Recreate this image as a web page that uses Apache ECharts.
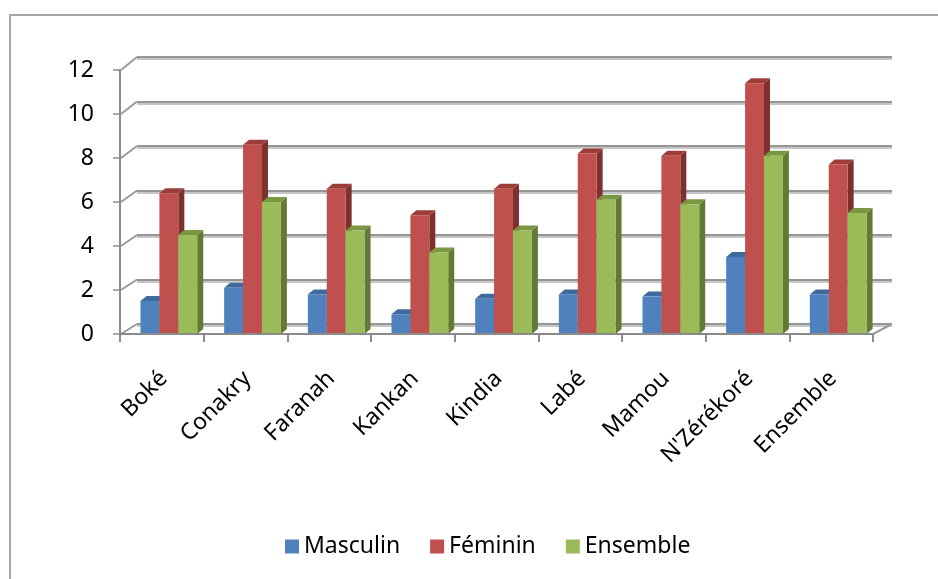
<!DOCTYPE html>
<html>
<head>
<meta charset="utf-8">
<script src="https://cdn.jsdelivr.net/npm/echarts@6/dist/echarts.min.js"></script>
<style>
html,body{margin:0;padding:0;background:#fff;}
#c{width:938px;height:579px;}
</style>
</head>
<body>
<div id="c"></div>
<script>
const categories = ["Boké","Conakry","Faranah","Kankan","Kindia","Labé","Mamou","N'Zérékoré","Ensemble"];
const seriesNames = ["Masculin","Féminin","Ensemble"];
const masculin = [1.5, 2.1, 1.8, 0.9, 1.6, 1.8, 1.7, 3.5, 1.8];
const feminin  = [6.4, 8.6, 6.6, 5.4, 6.6, 8.2, 8.1, 11.4, 7.7];
const ensemble = [4.5, 6.0, 4.7, 3.7, 4.7, 6.1, 5.9, 8.1, 5.5];
const yTicks = [0, 2, 4, 6, 8, 10, 12];

const palette = [
  {front:'#4F81BD', side:'#36598A', top:'#3F6A9E'},
  {front:'#C0504D', side:'#7E302E', top:'#9C3D3A'},
  {front:'#9BBB59', side:'#627A34', top:'#7A9744'}
];
const FONT = '"Noto Sans", "Open Sans", sans-serif';

function render3D(k){
  const c = palette[k];
  return function(params, api){
    const i = api.value(0), v = api.value(1);
    const band = api.size([1,0])[0];
    const base = api.coord([i, 0]);
    const top = api.coord([i, v]);
    const w = band*0.226;
    const x0 = base[0] - band/2 + band*0.245 + k*w;
    const x1 = x0 + w;
    const yb = base[1], yt = top[1];
    const dx = 6, dy = -5;
    return {
      type:'group',
      children:[
        {type:'polygon', shape:{points:[[x1,yt],[x1+dx,yt+dy],[x1+dx,yb+dy],[x1,yb]]}, style:{fill:c.side}},
        {type:'polygon', shape:{points:[[x0,yt],[x0+dx,yt+dy],[x1+dx,yt+dy],[x1,yt]]}, style:{fill:c.top}},
        {type:'rect', shape:{x:x0, y:yt, width:w, height:yb-yt}, style:{fill:c.front}}
      ]
    };
  };
}

const dataArrays = [masculin, feminin, ensemble];
const chart = echarts.init(document.getElementById('c'), null, {renderer:'canvas'});

const gridFront = {left:120, top:70, width:753, height:264};
const gridBack = {left:137, top:57, width:755, height:267};
const gridLabel = {left:122, top:70, width:753, height:264};

const option = {
  animation:false,
  backgroundColor:'#ffffff',
  grid:[gridFront, gridBack, gridLabel],
  legend:{
    data:seriesNames,
    left:280, top:530,
    icon:'rect', itemWidth:14, itemHeight:14, itemGap:30,
    textStyle:{fontFamily:FONT, fontSize:23, color:'#000'}
  },
  xAxis:[
    {gridIndex:0, type:'category', data:categories, z:5,
     axisLine:{lineStyle:{color:'#8a8a8a', width:2}},
     axisTick:{show:true, length:8, lineStyle:{color:'#8a8a8a', width:2}},
     axisLabel:{show:false}, splitLine:{show:false}},
    {gridIndex:1, type:'value', min:0, max:1, show:false},
    {gridIndex:2, type:'category', data:categories,
     axisLine:{show:false}, axisTick:{show:false},
     axisLabel:{show:true, interval:0, rotate:45, margin:41,
       fontFamily:FONT, fontSize:23, color:'#000'}}
  ],
  yAxis:[
    {gridIndex:0, type:'value', min:0, max:12, interval:2, z:5,
     axisLine:{show:true, lineStyle:{color:'#8a8a8a', width:2}},
     axisTick:{show:true, length:7, lineStyle:{color:'#8a8a8a', width:1.5}},
     axisLabel:{margin:26, fontFamily:FONT, fontSize:23, color:'#000'},
     splitLine:{show:false}},
    {gridIndex:1, type:'value', min:0, max:12, interval:2,
     axisLine:{show:false}, axisTick:{show:false}, axisLabel:{show:false},
     splitLine:{show:true, lineStyle:{color:'#959595', width:2, shadowColor:'#c6c6c6', shadowOffsetY:2, shadowBlur:0}}},
    {gridIndex:2, type:'value', min:0, max:12, show:false}
  ],
  series: seriesNames.map((name, k) => ({
    name:name,
    type:'custom',
    xAxisIndex:0, yAxisIndex:0,
    itemStyle:{color:palette[k].front},
    renderItem: render3D(k),
    encode:{x:0, y:1},
    data: dataArrays[k].map((v, i) => [i, v])
  }))
};
chart.setOption(option);

// wall/floor connectors computed from the axes
const g = [{type:'rect', shape:{x:10, y:15, width:1000, height:1000},
            style:{fill:'none', stroke:'#a6a6a6', lineWidth:2}, silent:true, z:-1}];
yTicks.forEach(v => {
  const f = chart.convertToPixel({gridIndex:0}, [0, v]);
  const b = chart.convertToPixel({gridIndex:1}, [0, v]);
  const fx = gridFront.left + 1;
  g.push({type:'line', shape:{x1:fx, y1:f[1], x2:b[0], y2:b[1]},
          style:{stroke:'#9a9a9a', lineWidth:2}, silent:true, z:1});
});
const fr = chart.convertToPixel({gridIndex:0}, [categories.length-1, 0]);
const br = chart.convertToPixel({gridIndex:1}, [1, 0]);
g.push({type:'line', shape:{x1:gridFront.left+gridFront.width, y1:fr[1], x2:br[0], y2:br[1]},
        style:{stroke:'#9a9a9a', lineWidth:2}, silent:true, z:1});
chart.setOption({graphic:g});
</script>
</body>
</html>
